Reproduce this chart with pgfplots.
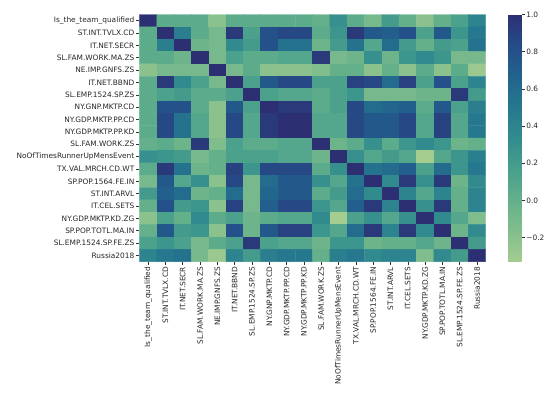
\documentclass[border=0pt]{standalone}
\usepackage{pgfplots}
\pgfplotsset{compat=1.18}
\usepackage{fontspec}
\setmainfont{DejaVu Sans}
\begin{document}
\begin{tikzpicture}
\path[use as bounding box] (0,0) rectangle (550pt,396pt);
\begin{axis}[
  at={(139.5pt,134.3pt)}, anchor=south west,
  scale only axis, width=346.2pt, height=247.2pt,
  xmin=-0.5, xmax=19.5, ymin=-0.5, ymax=19.5, y dir=reverse,
  enlargelimits=false,
  axis line style={draw=none},
  xtick={0,...,19}, ytick={0,...,19},
  xticklabels={Is\_the\_team\_qualified,ST.INT.TVLX.CD,IT.NET.SECR,SL.FAM.WORK.MA.ZS,NE.IMP.GNFS.ZS,IT.NET.BBND,SL.EMP.1524.SP.ZS,NY.GNP.MKTP.CD,NY.GDP.MKTP.PP.CD,NY.GDP.MKTP.PP.KD,SL.FAM.WORK.ZS,NoOfTimesRunnerUpMensEvent,TX.VAL.MRCH.CD.WT,SP.POP.1564.FE.IN,ST.INT.ARVL,IT.CEL.SETS,NY.GDP.MKTP.KD.ZG,SP.POP.TOTL.MA.IN,SL.EMP.1524.SP.FE.ZS,Russia2018},
  yticklabels={Is\_the\_team\_qualified,ST.INT.TVLX.CD,IT.NET.SECR,SL.FAM.WORK.MA.ZS,NE.IMP.GNFS.ZS,IT.NET.BBND,SL.EMP.1524.SP.ZS,NY.GNP.MKTP.CD,NY.GDP.MKTP.PP.CD,NY.GDP.MKTP.PP.KD,SL.FAM.WORK.ZS,NoOfTimesRunnerUpMensEvent,TX.VAL.MRCH.CD.WT,SP.POP.1564.FE.IN,ST.INT.ARVL,IT.CEL.SETS,NY.GDP.MKTP.KD.ZG,SP.POP.TOTL.MA.IN,SL.EMP.1524.SP.FE.ZS,Russia2018},
  xticklabel style={rotate=90, anchor=east, font=\fontsize{7.4}{8}\selectfont, color=black!85, inner sep=1.5pt},
  yticklabel style={font=\fontsize{7.4}{8}\selectfont, color=black!85, inner sep=1.5pt},
  xtick pos=left, ytick pos=left,
  tick align=outside, major tick length=3.5pt,
  tick style={black!80, line width=0.6pt},
  colormap={crest}{rgb255=(165,205,144) rgb255=(130,190,140) rgb255=(100,176,139) rgb255=(72,159,140) rgb255=(50,140,142) rgb255=(38,120,142) rgb255=(34,99,141) rgb255=(37,76,136) rgb255=(44,48,115)},
  point meta min=-0.33, point meta max=1,
  colorbar,
  colorbar style={
    at={(parent axis.north east)}, anchor=north west, xshift=13.8pt,
    width=13.7pt,
    axis line style={draw=none},
    ytick={-0.2,0,0.2,0.4,0.6,0.8,1},
    yticklabels={−0.2,0.0,0.2,0.4,0.6,0.8,1.0},
    yticklabel style={font=\fontsize{7.4}{8}\selectfont, color=black!85, inner sep=1.5pt},
    tick align=outside, major tick length=3pt,
    tick style={black!80, line width=0.6pt},
    ytick pos=right,
  },
]
\addplot[matrix plot*, mesh/cols=20, point meta=explicit] coordinates {
(0,0)[1] (1,0)[0.05] (2,0)[0.05] (3,0)[0.05] (4,0)[-0.2] (5,0)[0.05] (6,0)[0.05] (7,0)[0.05] (8,0)[0.05] (9,0)[0.05] (10,0)[0] (11,0)[0.3] (12,0)[0.05] (13,0)[-0.1] (14,0)[0.2] (15,0)[0] (16,0)[-0.2] (17,0)[0] (18,0)[0.15] (19,0)[0.4]
(0,1)[0.05] (1,1)[1] (2,1)[0.45] (3,1)[0.05] (4,1)[-0.1] (5,1)[0.95] (6,1)[0.15] (7,1)[0.8] (8,1)[0.85] (9,1)[0.85] (10,1)[0.05] (11,1)[0.25] (12,1)[0.95] (13,1)[0.75] (14,1)[0.7] (15,1)[0.8] (16,1)[0.15] (17,1)[0.75] (18,1)[0.25] (19,1)[0.5]
(0,2)[0.05] (1,2)[0.45] (2,2)[1] (3,2)[-0.05] (4,2)[-0.1] (5,2)[0.35] (6,2)[0.2] (7,2)[0.8] (8,2)[0.55] (9,2)[0.55] (10,2)[-0.05] (11,2)[0.2] (12,2)[0.55] (13,2)[0.1] (14,2)[0.6] (15,2)[0.2] (16,2)[0] (17,2)[0.2] (18,2)[0.15] (19,2)[0.55]
(0,3)[0.05] (1,3)[0.05] (2,3)[-0.05] (3,3)[1] (4,3)[-0.1] (5,3)[0.15] (6,3)[0.05] (7,3)[0.05] (8,3)[0.1] (9,3)[0.1] (10,3)[0.95] (11,3)[-0.1] (12,3)[-0.05] (13,3)[0.3] (14,3)[-0.05] (15,3)[0.25] (16,3)[0.35] (17,3)[0.25] (18,3)[-0.1] (19,3)[-0.1]
(0,4)[-0.2] (1,4)[-0.1] (2,4)[-0.1] (3,4)[-0.1] (4,4)[1] (5,4)[-0.1] (6,4)[0.05] (7,4)[-0.2] (8,4)[-0.2] (9,4)[-0.2] (10,4)[-0.15] (11,4)[0] (12,4)[0] (13,4)[-0.2] (14,4)[0] (15,4)[-0.2] (16,4)[0.05] (17,4)[-0.2] (18,4)[0.05] (19,4)[-0.28]
(0,5)[0.05] (1,5)[0.95] (2,5)[0.35] (3,5)[0.15] (4,5)[-0.1] (5,5)[1] (6,5)[0.15] (7,5)[0.75] (8,5)[0.85] (9,5)[0.85] (10,5)[0.15] (11,5)[0.15] (12,5)[0.9] (13,5)[0.85] (14,5)[0.6] (15,5)[0.9] (16,5)[0.15] (17,5)[0.8] (18,5)[0.15] (19,5)[0.4]
(0,6)[0.05] (1,6)[0.15] (2,6)[0.2] (3,6)[0.05] (4,6)[0.05] (5,6)[0.15] (6,6)[1] (7,6)[0.15] (8,6)[0.1] (9,6)[0.1] (10,6)[0.05] (11,6)[0.15] (12,6)[0.25] (13,6)[-0.1] (14,6)[-0.1] (15,6)[-0.1] (16,6)[-0.05] (17,6)[-0.05] (18,6)[0.95] (19,6)[0.2]
(0,7)[0.05] (1,7)[0.8] (2,7)[0.8] (3,7)[0.05] (4,7)[-0.2] (5,7)[0.75] (6,7)[0.15] (7,7)[1] (8,7)[0.95] (9,7)[0.95] (10,7)[0.05] (11,7)[0.15] (12,7)[0.85] (13,7)[0.6] (14,7)[0.65] (15,7)[0.7] (16,7)[0.05] (17,7)[0.75] (18,7)[0.15] (19,7)[0.45]
(0,8)[0.05] (1,8)[0.85] (2,8)[0.55] (3,8)[0.1] (4,8)[-0.2] (5,8)[0.85] (6,8)[0.1] (7,8)[0.95] (8,8)[1] (9,8)[1] (10,8)[0.1] (11,8)[0.1] (12,8)[0.85] (13,8)[0.75] (14,8)[0.75] (15,8)[0.85] (16,8)[0.1] (17,8)[0.9] (18,8)[0.1] (19,8)[0.5]
(0,9)[0.05] (1,9)[0.85] (2,9)[0.55] (3,9)[0.1] (4,9)[-0.2] (5,9)[0.85] (6,9)[0.1] (7,9)[0.95] (8,9)[1] (9,9)[1] (10,9)[0.1] (11,9)[0.1] (12,9)[0.85] (13,9)[0.75] (14,9)[0.75] (15,9)[0.85] (16,9)[0.1] (17,9)[0.9] (18,9)[0.1] (19,9)[0.5]
(0,10)[0] (1,10)[0.05] (2,10)[-0.05] (3,10)[0.95] (4,10)[-0.15] (5,10)[0.15] (6,10)[0.05] (7,10)[0.05] (8,10)[0.1] (9,10)[0.1] (10,10)[1] (11,10)[-0.05] (12,10)[0.05] (13,10)[0.3] (14,10)[0.05] (15,10)[0.25] (16,10)[0.35] (17,10)[0.25] (18,10)[-0.05] (19,10)[0]
(0,11)[0.3] (1,11)[0.25] (2,11)[0.2] (3,11)[-0.1] (4,11)[0] (5,11)[0.15] (6,11)[0.15] (7,11)[0.15] (8,11)[0.1] (9,11)[0.1] (10,11)[-0.05] (11,11)[1] (12,11)[0.3] (13,11)[0.1] (14,11)[0.2] (15,11)[0.1] (16,11)[-0.33] (17,11)[0.1] (18,11)[0.25] (19,11)[0.45]
(0,12)[0.05] (1,12)[0.95] (2,12)[0.55] (3,12)[-0.05] (4,12)[0] (5,12)[0.9] (6,12)[0.25] (7,12)[0.85] (8,12)[0.85] (9,12)[0.85] (10,12)[0.05] (11,12)[0.3] (12,12)[1] (13,12)[0.55] (14,12)[0.6] (15,12)[0.7] (16,12)[0.15] (17,12)[0.6] (18,12)[0.25] (19,12)[0.5]
(0,13)[-0.1] (1,13)[0.75] (2,13)[0.1] (3,13)[0.3] (4,13)[-0.2] (5,13)[0.85] (6,13)[-0.1] (7,13)[0.6] (8,13)[0.75] (9,13)[0.75] (10,13)[0.3] (11,13)[0.1] (12,13)[0.55] (13,13)[1] (14,13)[0.35] (15,13)[0.95] (16,13)[0.3] (17,13)[0.95] (18,13)[-0.05] (19,13)[0.35]
(0,14)[0.2] (1,14)[0.7] (2,14)[0.6] (3,14)[-0.05] (4,14)[0] (5,14)[0.6] (6,14)[-0.1] (7,14)[0.65] (8,14)[0.75] (9,14)[0.75] (10,14)[0.05] (11,14)[0.2] (12,14)[0.6] (13,14)[0.35] (14,14)[1] (15,14)[0.4] (16,14)[0.1] (17,14)[0.4] (18,14)[0] (19,14)[0.4]
(0,15)[0] (1,15)[0.8] (2,15)[0.2] (3,15)[0.25] (4,15)[-0.2] (5,15)[0.9] (6,15)[-0.1] (7,15)[0.7] (8,15)[0.85] (9,15)[0.85] (10,15)[0.25] (11,15)[0.1] (12,15)[0.7] (13,15)[0.95] (14,15)[0.4] (15,15)[1] (16,15)[0.3] (17,15)[0.95] (18,15)[0] (19,15)[0.4]
(0,16)[-0.2] (1,16)[0.15] (2,16)[0] (3,16)[0.35] (4,16)[0.05] (5,16)[0.15] (6,16)[-0.05] (7,16)[0.05] (8,16)[0.1] (9,16)[0.1] (10,16)[0.35] (11,16)[-0.33] (12,16)[0.15] (13,16)[0.3] (14,16)[0.1] (15,16)[0.3] (16,16)[1] (17,16)[0.35] (18,16)[0.1] (19,16)[-0.15]
(0,17)[0] (1,17)[0.75] (2,17)[0.2] (3,17)[0.25] (4,17)[-0.2] (5,17)[0.8] (6,17)[-0.05] (7,17)[0.75] (8,17)[0.9] (9,17)[0.9] (10,17)[0.25] (11,17)[0.1] (12,17)[0.6] (13,17)[0.95] (14,17)[0.4] (15,17)[0.95] (16,17)[0.35] (17,17)[1] (18,17)[-0.05] (19,17)[0.35]
(0,18)[0.15] (1,18)[0.25] (2,18)[0.15] (3,18)[-0.1] (4,18)[0.05] (5,18)[0.15] (6,18)[0.95] (7,18)[0.15] (8,18)[0.1] (9,18)[0.1] (10,18)[-0.05] (11,18)[0.25] (12,18)[0.25] (13,18)[-0.05] (14,18)[0] (15,18)[0] (16,18)[0.1] (17,18)[-0.05] (18,18)[1] (19,18)[0.2]
(0,19)[0.4] (1,19)[0.5] (2,19)[0.55] (3,19)[-0.1] (4,19)[-0.28] (5,19)[0.4] (6,19)[0.2] (7,19)[0.45] (8,19)[0.5] (9,19)[0.5] (10,19)[0] (11,19)[0.45] (12,19)[0.5] (13,19)[0.35] (14,19)[0.4] (15,19)[0.4] (16,19)[-0.15] (17,19)[0.35] (18,19)[0.2] (19,19)[1]
};
\end{axis}
\end{tikzpicture}
\end{document}
